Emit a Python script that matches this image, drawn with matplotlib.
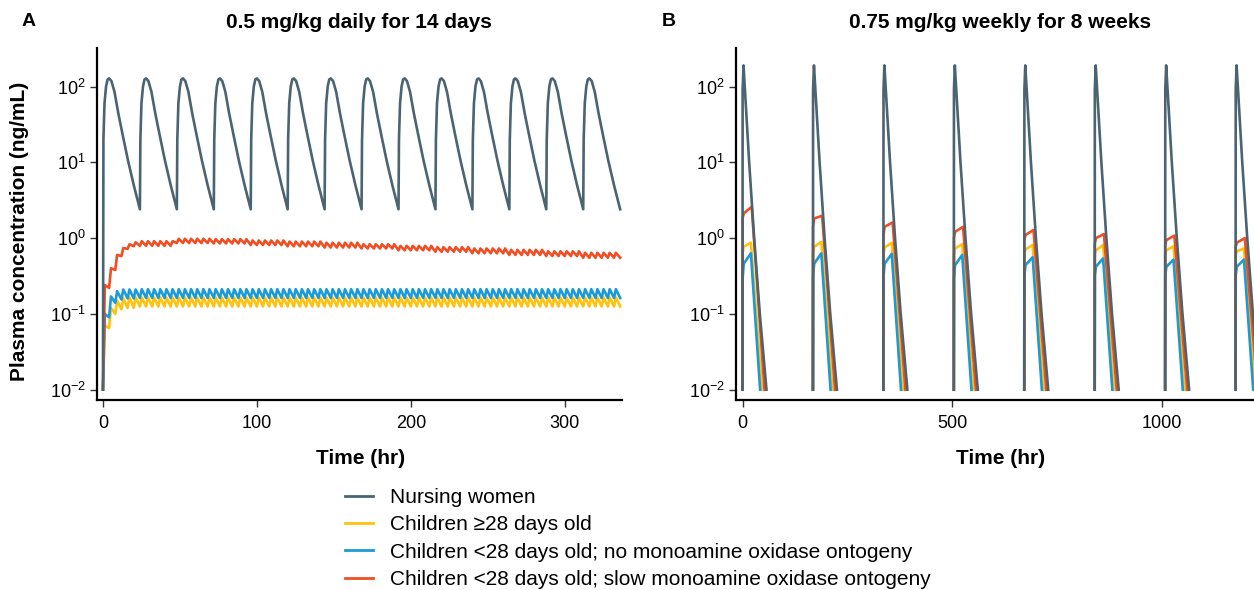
import numpy as np
import matplotlib
matplotlib.use('Agg')
import matplotlib.pyplot as plt
from matplotlib.ticker import LogLocator, NullLocator

plt.rcParams['font.family'] = ['Liberation Sans', 'DejaVu Sans']
plt.rcParams['mathtext.default'] = 'regular'

labels = ['Nursing women',
          'Children \u226528 days old',
          'Children <28 days old; no monoamine oxidase ontogeny',
          'Children <28 days old; slow monoamine oxidase ontogeny']
colors = ['#4a6472', '#ffc20e', '#1b9ad6', '#f04e23']

# ---------------- A: 0.5 mg/kg daily for 14 days ----------------
dose_times_a = [0, 24, 48, 72, 96, 120, 144, 168, 192, 216, 240, 264, 288, 312]
end_a = 336
# nursing women, one dosing interval (hr after dose -> ng/mL)
nw_a_hr = [0, 0.3, 1, 2, 3, 4, 5.5, 7.5, 10, 13, 16.3, 20]
nw_a_conc = [2.4, 20, 60, 100, 124, 128, 118, 85, 44, 22, 10.5, 5]
nw_a_start = 0.01

# children: breast feeding every 4 hr (6 feeds/day)
feed_hr = 4
feeds_per_day = 6
peak_lag = 1.2
# first day, per feed (trough before feed, peak after feed)
yel_a_d1_lo = [0.01, 0.065, 0.10, 0.115, 0.12, 0.12]
yel_a_d1_hi = [0.07, 0.12, 0.15, 0.16, 0.165, 0.165]
blu_a_d1_lo = [0.01, 0.09, 0.14, 0.155, 0.16, 0.16]
blu_a_d1_hi = [0.10, 0.17, 0.20, 0.21, 0.21, 0.21]
red_a_d1_lo = [0.01, 0.22, 0.38, 0.58, 0.72, 0.78]
red_a_d1_hi = [0.24, 0.40, 0.60, 0.74, 0.83, 0.88]
# days 2..14, per day
yel_a_lo = [0.125, 0.125, 0.125, 0.125, 0.125, 0.125, 0.125, 0.125, 0.125, 0.125, 0.125, 0.125, 0.125]
yel_a_hi = [0.165, 0.165, 0.165, 0.165, 0.165, 0.165, 0.165, 0.165, 0.165, 0.165, 0.165, 0.165, 0.165]
blu_a_lo = [0.162, 0.162, 0.162, 0.162, 0.162, 0.162, 0.162, 0.162, 0.162, 0.162, 0.162, 0.162, 0.162]
blu_a_hi = [0.212, 0.212, 0.212, 0.212, 0.212, 0.212, 0.212, 0.212, 0.212, 0.212, 0.212, 0.212, 0.212]
red_a_lo = [0.79, 0.86, 0.85, 0.81, 0.78, 0.75, 0.73, 0.69, 0.66, 0.63, 0.60, 0.58, 0.55]
red_a_hi = [0.91, 0.98, 0.97, 0.93, 0.90, 0.87, 0.83, 0.79, 0.76, 0.73, 0.70, 0.67, 0.64]

# ---------------- B: 0.75 mg/kg weekly for 8 weeks ----------------
dose_times_b = [0, 168, 336, 504, 672, 840, 1008, 1176]
nw_b_hr = [0, 0.3, 2.4, 15.9, 27.8, 41.3, 57.2]
nw_b_conc = [0.01, 90, 190, 10, 1, 0.1, 0.01]
# children per weekly cycle: level just after dose, after ~3 hr, peak
blu_b_s1 = [0.29, 0.31, 0.31, 0.29, 0.32, 0.32, 0.32, 0.32]
blu_b_s2 = [0.46, 0.46, 0.46, 0.44, 0.44, 0.42, 0.42, 0.42]
blu_b_pk = [0.63, 0.63, 0.62, 0.60, 0.56, 0.54, 0.52, 0.52]
yel_b_s1 = [0.62, 0.63, 0.62, 0.60, 0.63, 0.62, 0.62, 0.60]
yel_b_s2 = [0.77, 0.77, 0.75, 0.73, 0.71, 0.69, 0.69, 0.67]
yel_b_pk = [0.87, 0.89, 0.87, 0.83, 0.81, 0.81, 0.78, 0.73]
red_b_s1 = [1.82, 1.41, 1.10, 1.00, 0.94, 0.85, 0.81, 0.77]
red_b_s2 = [2.12, 1.82, 1.41, 1.21, 1.10, 1.00, 0.94, 0.87]
red_b_pk = [2.59, 1.97, 1.61, 1.41, 1.28, 1.13, 1.08, 1.00]
# hr after dose of the peak and of the drop below 0.01 ng/mL
blu_b_hr = [0, 0.3, 3, 20, 42]
yel_b_hr = [0, 0.3, 3, 20, 46.5]
red_b_hr = [0, 0.3, 3, 22, 52.5]


def nursing_a():
    t, c = [], []
    for k, d in enumerate(dose_times_a):
        for h, v in zip(nw_a_hr, nw_a_conc):
            t.append(d + h)
            c.append(nw_a_start if (k == 0 and h == 0) else v)
    t.append(end_a)
    c.append(nw_a_conc[0])
    return t, c


def feeding_a(d1_lo, d1_hi, day_lo, day_hi):
    lo = list(d1_lo) + [v for v in day_lo for _ in range(feeds_per_day)]
    hi = list(d1_hi) + [v for v in day_hi for _ in range(feeds_per_day)]
    t, c = [], []
    for i in range(len(lo)):
        t += [i * feed_hr, i * feed_hr + peak_lag]
        c += [lo[i], hi[i]]
    t.append(end_a)
    c.append(lo[-1])
    return t, c


def nursing_b():
    t, c = [], []
    for d in dose_times_b:
        t += [d + h for h in nw_b_hr] + [np.nan]
        c += list(nw_b_conc) + [np.nan]
    return t, c


def child_b(s1, s2, pk, hrs):
    t, c = [], []
    for i, d in enumerate(dose_times_b):
        t += [d + h for h in hrs] + [np.nan]
        c += [0.01, s1[i], s2[i], pk[i], 0.01, np.nan]
    return t, c


fig = plt.figure(figsize=(12.54, 5.9), dpi=100)
W, H = 1254.0, 590.0
ax_a = fig.add_axes([96.5 / W, 1 - 400 / H, (621.7 - 96.5) / W, 352 / H])
ax_b = fig.add_axes([735.5 / W, 1 - 400 / H, (1262 - 735.5) / W, 352 / H])

lw = 1.9
ta = [feeding_a(yel_a_d1_lo, yel_a_d1_hi, yel_a_lo, yel_a_hi),
      feeding_a(blu_a_d1_lo, blu_a_d1_hi, blu_a_lo, blu_a_hi),
      feeding_a(red_a_d1_lo, red_a_d1_hi, red_a_lo, red_a_hi)]
for (t, c), col in zip(ta, colors[1:]):
    ax_a.plot(t, c, color=col, lw=lw, solid_joinstyle='round')
t, c = nursing_a()
ax_a.plot(t, c, color=colors[0], lw=lw, solid_joinstyle='round')

tb = [child_b(yel_b_s1, yel_b_s2, yel_b_pk, yel_b_hr),
      child_b(blu_b_s1, blu_b_s2, blu_b_pk, blu_b_hr),
      child_b(red_b_s1, red_b_s2, red_b_pk, red_b_hr)]
for (t, c), col in zip(tb, colors[1:]):
    ax_b.plot(t, c, color=col, lw=lw, solid_joinstyle='round')
t, c = nursing_b()
ax_b.plot(t, c, color=colors[0], lw=lw, solid_joinstyle='round')

ax_a.set_xlim(-4.2, 337)
ax_b.set_xlim(-16.7, 1239)
ax_a.set_xticks([0, 100, 200, 300])
ax_b.set_xticks([0, 500, 1000])
for ax in (ax_a, ax_b):
    ax.set_yscale('log')
    ax.set_ylim(10 ** -2.136, 10 ** 2.508)
    ax.yaxis.set_major_locator(LogLocator(base=10, numticks=10))
    ax.yaxis.set_minor_locator(NullLocator())
    ax.spines['top'].set_visible(False)
    ax.spines['right'].set_visible(False)
    ax.spines['left'].set_linewidth(1.6)
    ax.spines['bottom'].set_linewidth(1.6)
    ax.tick_params(axis='both', length=5, width=1, labelsize=13, color='#333333')
    ax.tick_params(axis='y', pad=2.5)
    ax.tick_params(axis='x', pad=6)

# titles, labels
fig.text(22 / W, 1 - 22 / H, 'A', fontsize=14, fontweight='bold', ha='left', va='center')
fig.text(662 / W, 1 - 22 / H, 'B', fontsize=14, fontweight='bold', ha='left', va='center')
fig.text(359 / W, 1 - 22 / H, '0.5 mg/kg daily for 14 days', fontsize=15, fontweight='bold',
         ha='center', va='center')
fig.text(1000 / W, 1 - 22 / H, '0.75 mg/kg weekly for 8 weeks', fontsize=15, fontweight='bold',
         ha='center', va='center')
fig.text(361 / W, 1 - 459 / H, 'Time (hr)', fontsize=15, fontweight='bold', ha='center', va='center')
fig.text(1001 / W, 1 - 459 / H, 'Time (hr)', fontsize=15, fontweight='bold', ha='center', va='center')
fig.text(20 / W, 1 - 231 / H, 'Plasma concentration (ng/mL)', fontsize=15, fontweight='bold',
         rotation=90, ha='center', va='center')

handles = [plt.Line2D([], [], color=col, lw=2) for col in colors]
fig.legend(handles, labels, loc='upper left', bbox_to_anchor=(345 / W, 1 - 488 / H),
           frameon=False, fontsize=15, handlelength=1.35, handletextpad=0.8,
           labelspacing=0.4, borderpad=0, borderaxespad=0)

fig.savefig('out.png', dpi=100)
